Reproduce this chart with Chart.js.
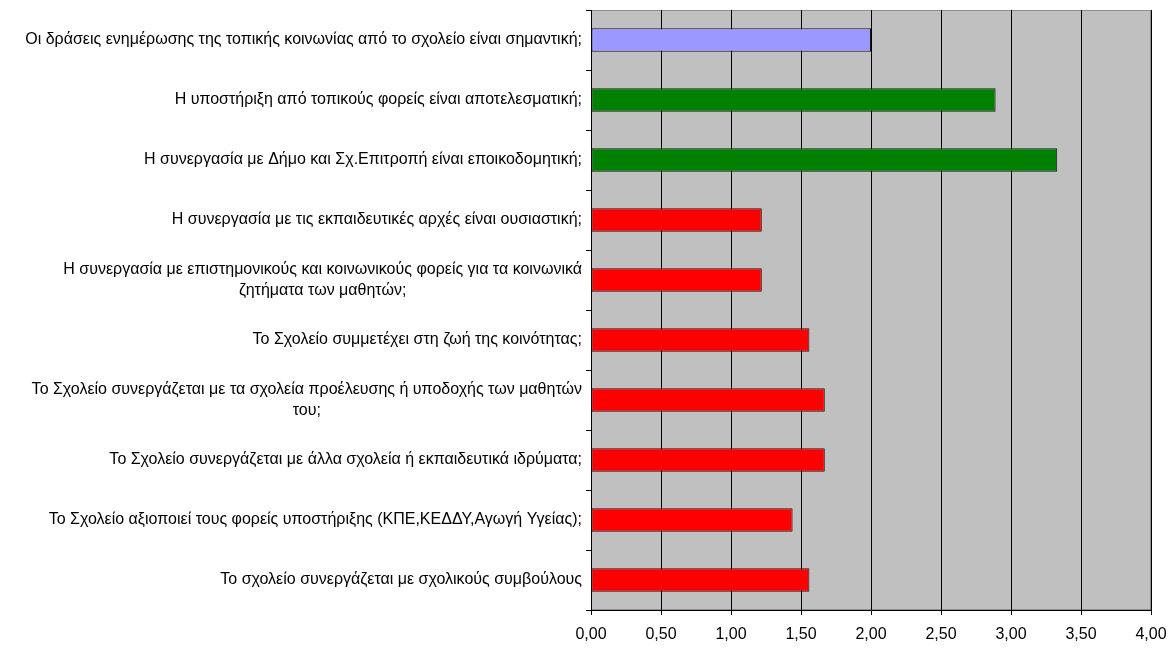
<!DOCTYPE html>
<html>
<head>
<meta charset="utf-8">
<script src="https://cdn.jsdelivr.net/npm/chart.js@4/dist/chart.umd.min.js"></script>
<style>
    html, body { margin: 0; padding: 0; background: #fff; }
    #wrap { width: 1170px; height: 648px; }
</style>
</head>
<body>
<div id="wrap"><canvas id="chart"></canvas></div>
<script>
const questions = [
    'Οι δράσεις ενημέρωσης της τοπικής κοινωνίας από το σχολείο είναι σημαντική;',
    'Η υποστήριξη από τοπικούς φορείς είναι αποτελεσματική;',
    'Η συνεργασία με Δήμο και Σχ.Επιτροπή είναι εποικοδομητική;',
    'Η συνεργασία με τις εκπαιδευτικές αρχές είναι ουσιαστική;',
    ['Η συνεργασία με επιστημονικούς και κοινωνικούς φορείς για τα κοινωνικά', 'ζητήματα των μαθητών;'],
    'Το Σχολείο συμμετέχει στη ζωή της κοινότητας;',
    ['Το Σχολείο συνεργάζεται με τα σχολεία προέλευσης ή υποδοχής των μαθητών', 'του;'],
    'Το Σχολείο συνεργάζεται με άλλα σχολεία ή εκπαιδευτικά ιδρύματα;',
    'Το Σχολείο αξιοποιεί τους φορείς υποστήριξης (ΚΠΕ,ΚΕΔΔΥ,Αγωγή Υγείας);',
    'Το σχολείο συνεργάζεται με σχολικούς συμβούλους'
];

const scores = [2.00, 2.89, 3.33, 1.22, 1.22, 1.56, 1.67, 1.67, 1.44, 1.56];

const barColors = ['#9999FF', '#008000', '#008000', '#FF0000', '#FF0000', '#FF0000', '#FF0000', '#FF0000', '#FF0000', '#FF0000'];

const xTicks = [0, 0.5, 1, 1.5, 2, 2.5, 3, 3.5, 4];

const FONT_FAMILY = "'Liberation Sans', Arial, sans-serif";
const FONT_SIZE = 16;
const LINE_GAP = 21;

const plotBackground = {
    id: 'plotBackground',
    beforeDraw(chart) {
        const { ctx, chartArea: a } = chart;
        ctx.save();
        ctx.fillStyle = '#C0C0C0';
        ctx.fillRect(a.left, a.top, a.right - a.left, a.bottom - a.top);
        ctx.strokeStyle = '#8c8c8c';
        ctx.lineWidth = 1;
        ctx.strokeRect(a.left + 0.5, a.top + 0.5, a.right - a.left - 1, a.bottom - a.top - 1);
        ctx.restore();
    }
};

// category labels: block right-aligned next to the axis, lines centred inside the block
const questionLabels = {
    id: 'questionLabels',
    afterDraw(chart) {
        const { ctx } = chart;
        const yScale = chart.scales.y;
        const right = yScale.right - 9;
        ctx.save();
        ctx.font = `${FONT_SIZE}px ${FONT_FAMILY}`;
        ctx.fillStyle = '#000';
        ctx.textAlign = 'center';
        ctx.textBaseline = 'middle';
        questions.forEach((q, i) => {
            const lines = Array.isArray(q) ? q : [q];
            const w = Math.max(...lines.map(l => ctx.measureText(l).width));
            const cx = right - w / 2;
            const y0 = yScale.getPixelForTick(i) - (lines.length - 1) * LINE_GAP / 2;
            lines.forEach((l, j) => ctx.fillText(l, cx, y0 + j * LINE_GAP));
        });
        ctx.restore();
    }
};

new Chart(document.getElementById('chart'), {
    type: 'bar',
    data: {
        labels: questions,
        datasets: [{
            data: scores,
            backgroundColor: barColors,
            borderColor: '#1a1a1a',
            borderWidth: 1,
            borderSkipped: false,
            barPercentage: 0.39,
            categoryPercentage: 1
        }]
    },
    options: {
        indexAxis: 'y',
        responsive: true,
        maintainAspectRatio: false,
        animation: false,
        layout: { padding: { top: 10, right: 19, left: 0, bottom: 0 } },
        plugins: { legend: { display: false }, tooltip: { enabled: false } },
        scales: {
            x: {
                min: 0,
                max: 4,
                afterBuildTicks: (axis) => { axis.ticks = xTicks.map(v => ({ value: v })); },
                afterFit: (axis) => {
                    axis.height = 38;
                    axis.paddingLeft = 0;
                    axis.paddingRight = 0;
                },
                grid: { color: '#000', lineWidth: 1, tickLength: 5, drawTicks: true },
                border: { color: '#000', width: 1 },
                ticks: {
                    color: '#000',
                    font: { family: FONT_FAMILY, size: FONT_SIZE },
                    padding: 10,
                    maxRotation: 0,
                    callback: (v) => Number(v).toFixed(2).replace('.', ',')
                }
            },
            y: {
                offset: true,
                afterFit: (axis) => { axis.width = 591; },
                grid: { offset: true, drawOnChartArea: false, color: '#000', tickLength: 5 },
                border: { color: '#000', width: 1 },
                ticks: { display: false, autoSkip: false }
            }
        }
    },
    plugins: [plotBackground, questionLabels]
});
</script>
</body>
</html>
